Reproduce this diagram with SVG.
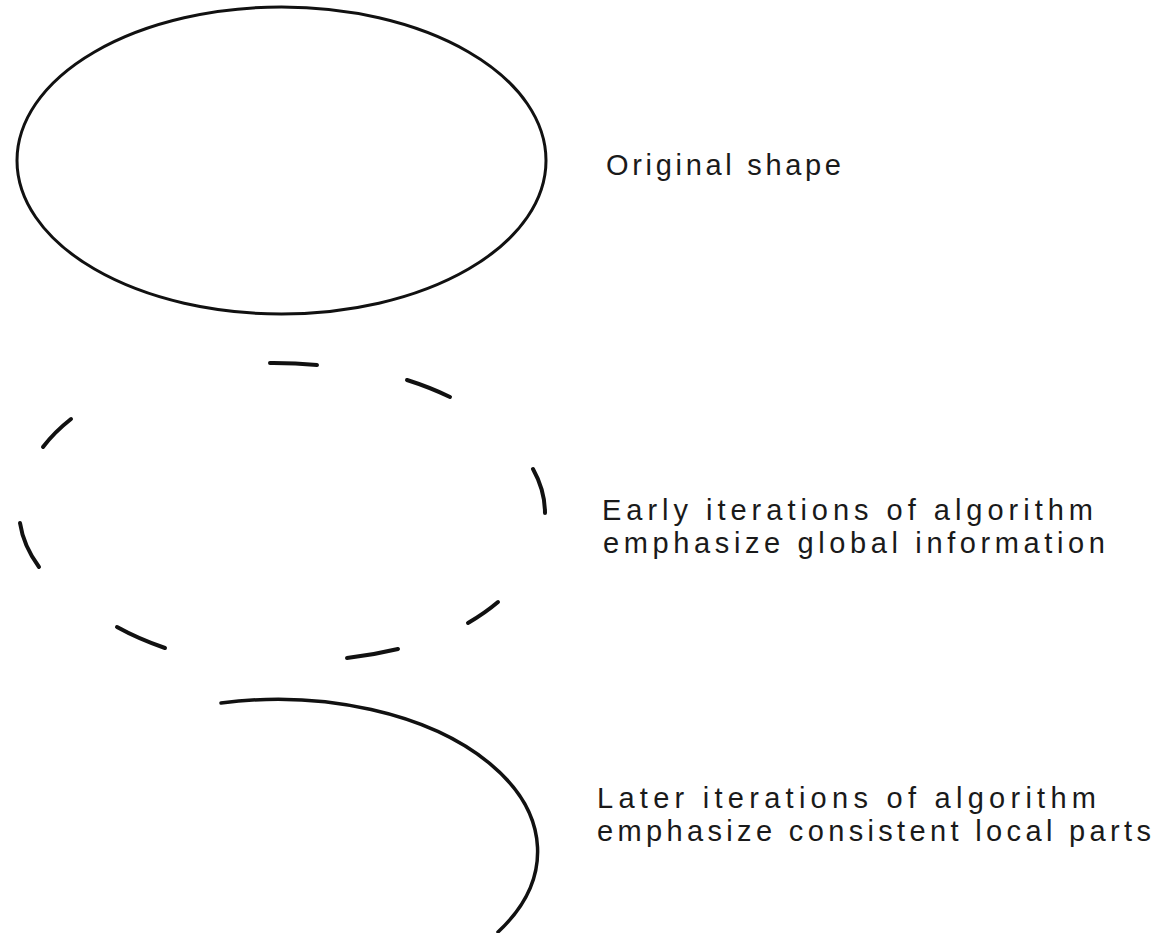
<svg xmlns="http://www.w3.org/2000/svg" width="1170" height="933" viewBox="0 0 1170 933">
<style>
.shape{fill:none;stroke:#111;stroke-width:3;stroke-linecap:round}
.dash{fill:none;stroke:#111;stroke-width:4;stroke-linecap:round}
.lbl{font-family:"Liberation Sans","DejaVu Sans",sans-serif;font-size:29px;fill:#1a1a1a}
</style>
<rect width="1170" height="933" fill="#fff"/>
<g id="original">
<ellipse class="shape" cx="281.5" cy="160.5" rx="264.5" ry="153.5"/>
<text class="lbl" x="606" y="175" textLength="235" lengthAdjust="spacing">Original shape</text>
</g>
<g id="early">
<path class="dash" d="M270 363 A264 148 0 0 1 317 365"/>
<path class="dash" d="M407 380 A264 148 0 0 1 450 397"/>
<path class="dash" d="M533 469 A264 148 0 0 1 545 513"/>
<path class="dash" d="M498 602 A264 148 0 0 1 468 623"/>
<path class="dash" d="M398 649 A264 148 0 0 1 347 658"/>
<path class="dash" d="M165 648 A264 148 0 0 1 117 627"/>
<path class="dash" d="M39 567 A264 148 0 0 1 20 523"/>
<path class="dash" d="M43 447 A264 148 0 0 1 71 419"/>
<text class="lbl" x="602" y="520" textLength="491" lengthAdjust="spacing">Early iterations of algorithm</text>
<text class="lbl" x="603" y="553" textLength="502" lengthAdjust="spacing">emphasize global information</text>
</g>
<g id="later">
<path class="shape" style="stroke-width:3.5" d="M221 703 A260 152 0 0 1 498 932"/>
<text class="lbl" x="597" y="808" textLength="499" lengthAdjust="spacing">Later iterations of algorithm</text>
<text class="lbl" x="597" y="841" textLength="554" lengthAdjust="spacing">emphasize consistent local parts</text>
</g>
<g id="connectors"/>
</svg>
